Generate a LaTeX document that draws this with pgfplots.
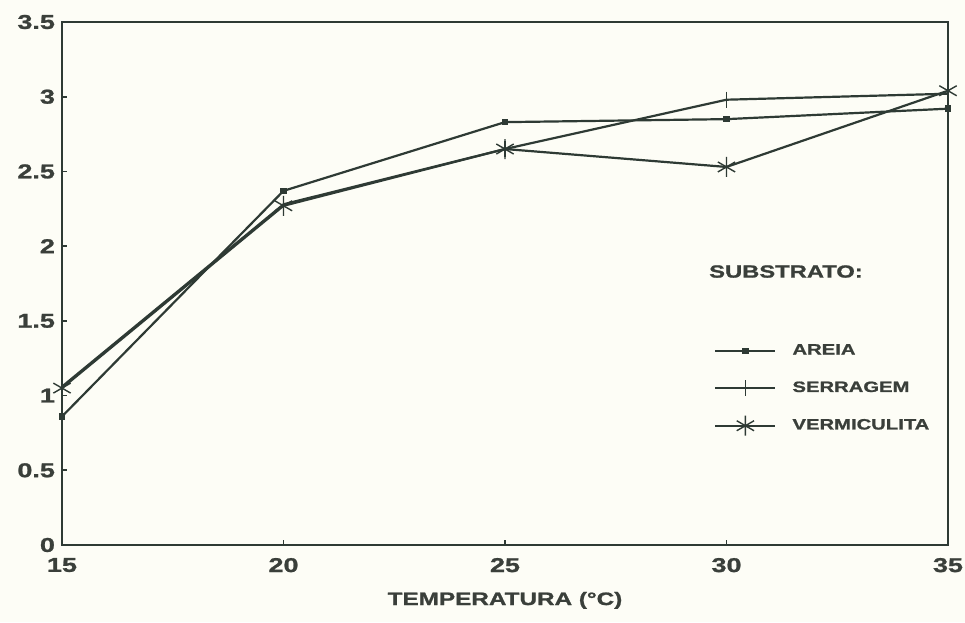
\documentclass[border=0pt]{standalone}
\usepackage{pgfplots}
\pgfplotsset{compat=1.18}
\usepackage{fontspec}
\setmainfont{Liberation Sans}[BoldFeatures={FakeBold=1.2,FakeStretch=1.35}]
\definecolor{ink}{HTML}{2E3A34}
\definecolor{txt}{HTML}{3A3F3A}
\definecolor{bg}{HTML}{FDFDF6}
\begin{document}
\begin{tikzpicture}
\fill[bg] (-31pt,-38.5pt) rectangle (451.5pt,272.5pt);
\path[use as bounding box] (-31pt,-38.5pt) rectangle (451.5pt,272.5pt);
\begin{axis}[
  scale only axis, width=443pt, height=261.5pt,
  anchor=south west, at={(0,0)},
  xmin=15, xmax=35, ymin=0, ymax=3.5,
  xtick={15,20,25,30,35}, ytick={0,0.5,...,3.5},
  tick align=inside, major tick length=2.5pt,
  tick style={ink, line width=0.8pt},
  xtick pos=bottom, ytick pos=left,
  axis line style={ink, line width=1.1pt},
  /pgf/number format/assume math mode=true,
  ticklabel style={font=\bfseries\fontsize{10}{12}\selectfont, text=txt},
  xticklabel style={yshift=-3pt},
  yticklabel style={/pgf/number format/.cd, fixed, precision=1},
  xlabel={TEMPERATURA (°C)},
  xlabel style={font=\bfseries\fontsize{9}{11}\selectfont, text=txt, yshift=-3pt},
  legend style={draw=none, fill=none, at={(axis cs:29.58,1.40)}, anchor=north west,
    font=\bfseries\fontsize{7.5}{9}\selectfont, text=txt, row sep=8pt},
  legend cell align=left,
  legend image code/.code={\draw[#1] (0pt,0pt) -- (15pt,0pt); \draw[#1,mark repeat=2,mark phase=2] plot coordinates {(0pt,0pt) (15pt,0pt) (30pt,0pt)}; \path (36pt,0pt);},
  every axis plot/.append style={ink, line width=1.1pt},
  clip=false,
]
\addplot[mark=square*, mark size=1.3pt, mark options={solid, line width=0.6pt}] coordinates {
 (15,0.86) (20,2.37) (25,2.83) (30,2.85) (35,2.92)};
\addlegendentry{AREIA}
\addplot[mark=|, mark size=4pt, mark options={solid, line width=0.8pt}] coordinates {
 (15,1.06) (20,2.28) (25,2.65) (30,2.98) (35,3.02)};
\addlegendentry{SERRAGEM}
\addplot[mark=asterisk, mark size=5pt, mark options={solid, line width=0.7pt}] coordinates {
 (15,1.05) (20,2.27) (25,2.65) (30,2.53) (35,3.04)};
\addlegendentry{VERMICULITA}
\node[anchor=west, font=\bfseries\fontsize{8.8}{11}\selectfont, text=txt] at (axis cs:29.45,1.83) {SUBSTRATO:};
\end{axis}
\end{tikzpicture}
\end{document}
